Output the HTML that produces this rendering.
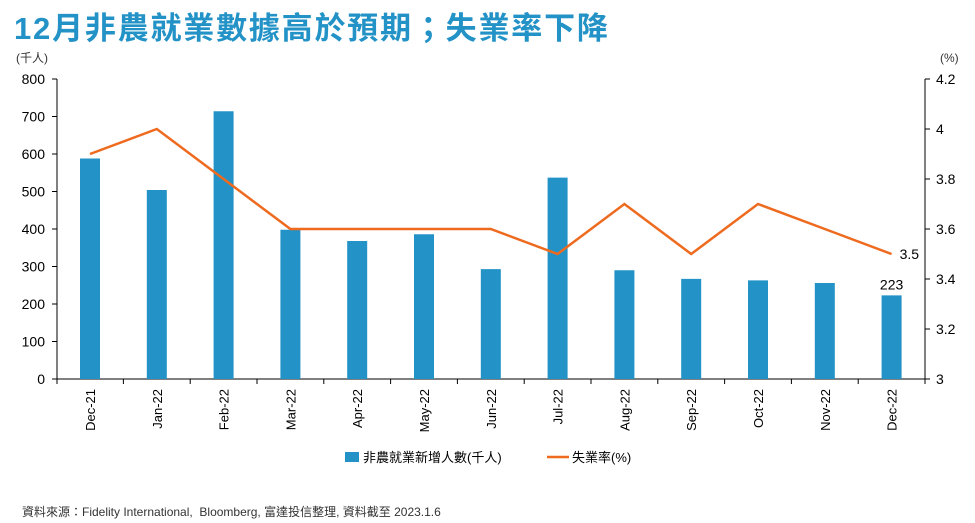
<!DOCTYPE html>
<html><head><meta charset="utf-8"><style>
body{margin:0;background:#fff;width:975px;height:523px;overflow:hidden;font-family:"Liberation Sans","Noto Sans CJK TC",sans-serif}
#t{position:absolute;left:14px;top:3px;font-size:31px;font-weight:bold;color:#2392c6;font-family:"Liberation Sans","Noto Sans CJK TC",sans-serif;letter-spacing:1.8px}
#src{position:absolute;left:22px;top:503px;font-size:12px;color:#333}
</style></head><body>
<div id="t">12月非農就業數據高於預期；失業率下降</div>
<svg id="c" width="975" height="523" style="position:absolute;left:0;top:0"></svg>
<div id="src">資料來源：Fidelity International,&nbsp; Bloomberg, 富達投信整理, 資料截至 2023.1.6</div>
<script>
const categories=["Dec-21","Jan-22","Feb-22","Mar-22","Apr-22","May-22","Jun-22","Jul-22","Aug-22","Sep-22","Oct-22","Nov-22","Dec-22"];
const payrolls=[588,504,714,398,368,386,293,537,290,267,263,256,223];
const unemployment=[3.9,4.0,3.8,3.6,3.6,3.6,3.6,3.5,3.7,3.5,3.7,3.6,3.5];
const leftTicks=[0,100,200,300,400,500,600,700,800];
const rightTicks=[3,3.2,3.4,3.6,3.8,4,4.2];
const NS="http://www.w3.org/2000/svg",svg=document.getElementById('c');
function mk(tag,a,txt){const e=document.createElementNS(NS,tag);for(const k in a)e.setAttribute(k,a[k]);if(txt!=null)e.textContent=txt;svg.appendChild(e);return e;}
const y0=379,y1=79,xL=57,xR=925,x0=90,dx=66.8;
const yl=v=>y0-(v/800)*(y0-y1);
const yr=v=>y0-((v-3)/1.2)*(y0-y1);
const xc=i=>x0+i*dx;
let e;
e=mk('line',{x1:xL,y1:y1,x2:xL,y2:y0,stroke:'#000'});
e=mk('line',{x1:xR,y1:y1,x2:xR,y2:y0,stroke:'#000'});
e=mk('line',{x1:xL,y1:y0,x2:xR,y2:y0,stroke:'#000'});
leftTicks.forEach(v=>{mk('line',{x1:xL-5,y1:yl(v),x2:xL,y2:yl(v),stroke:'#000'});
e=mk('text',{x:45,y:yl(v)+5,'text-anchor':'end','font-size':14},v);});
rightTicks.forEach(v=>{mk('line',{x1:xR,y1:yr(v),x2:xR+5,y2:yr(v),stroke:'#000'});
e=mk('text',{x:936,y:yr(v)+5,'font-size':14},String(v));});
e=mk('text',{x:16,y:62,'font-size':12,fill:'#333'},'(千人)');
e=mk('text',{x:940,y:62,'font-size':12,fill:'#333'},'(%)');
categories.forEach((c,i)=>{const x=xc(i);
mk('line',{x1:x+dx/2,y1:y0,x2:x+dx/2,y2:y0+5,stroke:'#000'});
e=mk('rect',{x:x-10,y:yl(payrolls[i]),width:20,height:y0-yl(payrolls[i]),fill:'#2392c6'});
e=mk('text',{transform:`translate(${x+5},${y0+10}) rotate(-90)`,'text-anchor':'end','font-size':13},c);});
mk('line',{x1:xL,y1:y0,x2:xL,y2:y0+5,stroke:'#000'});
e=mk('polyline',{points:unemployment.map((v,i)=>xc(i)+','+yr(v)).join(' '),fill:'none',stroke:'#ee6a1f','stroke-width':2.5});
const n=categories.length-1;
e=mk('text',{x:xc(n),y:yl(payrolls[n])-6,'text-anchor':'middle','font-size':14},payrolls[n]);
e=mk('text',{x:xc(n)+8,y:yr(unemployment[n])+5,'font-size':14},unemployment[n]);
e=mk('rect',{x:345,y:452,width:14,height:10,fill:'#2392c6'});
e=mk('text',{x:363,y:462,'font-size':13},'非農就業新增人數(千人)');
e=mk('line',{x1:547,y1:457,x2:569,y2:457,stroke:'#ee6a1f','stroke-width':2.5});
e=mk('text',{x:572,y:462,'font-size':13},'失業率(%)');
</script>
</body></html>
